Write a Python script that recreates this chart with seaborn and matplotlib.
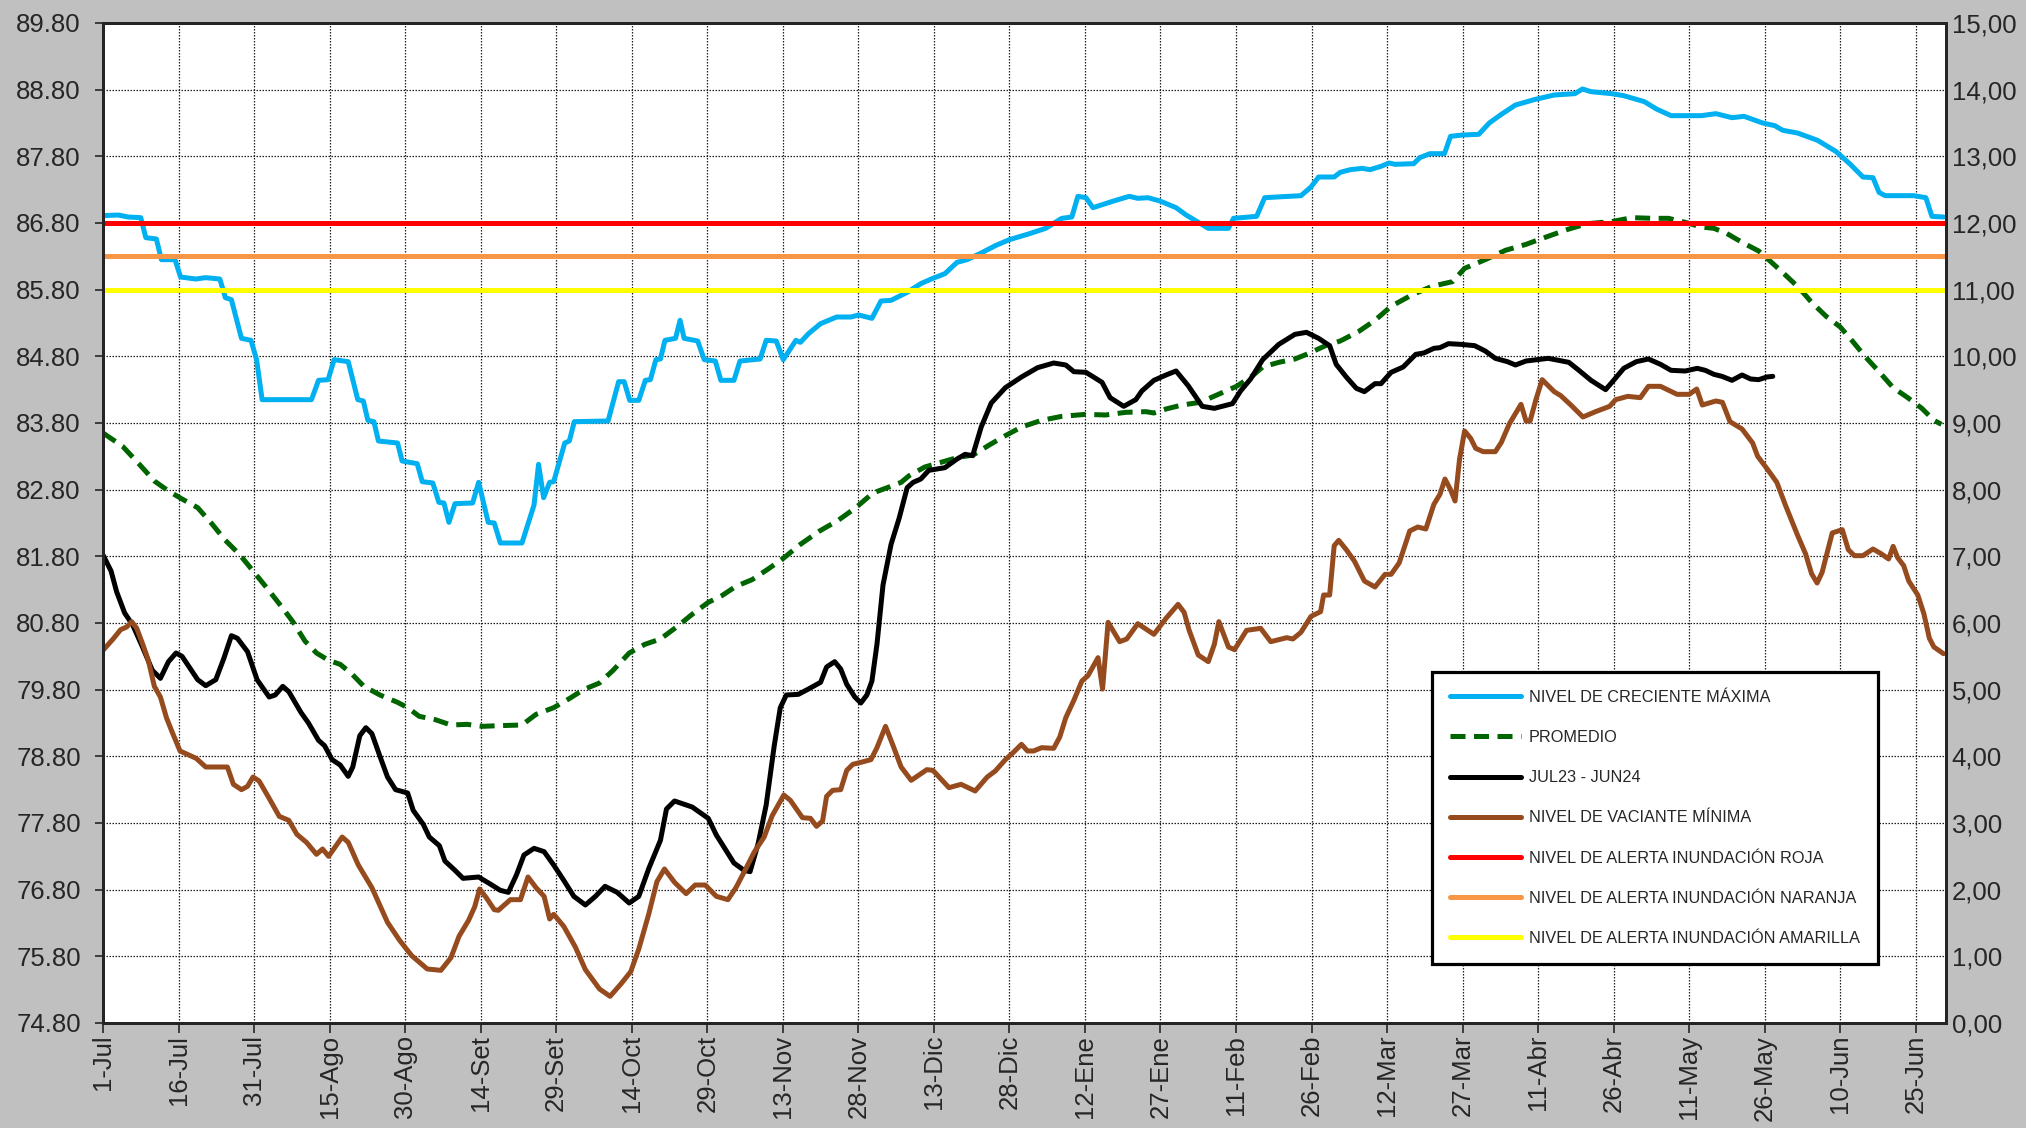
import matplotlib
matplotlib.use('Agg')
import pandas as pd
import matplotlib.pyplot as plt
import seaborn as sns

# %% datos (dia desde 1-Jul, nivel en m.s.n.m.)
creciente_max = [
    (0, 86.91), (3, 86.92), (5, 86.89), (7.5, 86.88), (8.5, 86.58), (10.6, 86.56), (11.6, 86.25),
    (14.3, 86.25), (15.4, 85.99), (18.4, 85.96), (20.4, 85.98), (23.2, 85.96), (24.3, 85.68),
    (25.5, 85.65), (27.5, 85.07), (29.4, 85.04), (30.5, 84.75), (31.6, 84.15), (41.4, 84.15),
    (42.8, 84.44), (44.7, 84.45), (45.9, 84.75), (48.7, 84.72), (50.6, 84.15), (51.7, 84.13),
    (52.6, 83.84), (53.8, 83.82), (54.7, 83.53), (58.5, 83.50), (59.4, 83.23), (62.4, 83.19),
    (63.4, 82.92), (65.5, 82.90), (66.7, 82.61), (67.7, 82.60), (68.7, 82.31), (69.9, 82.59),
    (73.4, 82.60), (74.6, 82.91), (76.5, 82.31), (77.7, 82.30), (78.9, 82.00), (83.2, 82.00),
    (85.6, 82.57), (86.5, 83.18), (87.5, 82.68), (88.7, 82.91), (89.5, 82.92), (91.7, 83.50),
    (92.6, 83.53), (93.6, 83.82), (100.3, 83.83), (102.4, 84.42), (103.5, 84.42), (104.6, 84.14),
    (106.4, 84.14), (107.7, 84.44), (108.7, 84.45), (109.8, 84.75), (110.7, 84.76), (111.6, 85.04),
    (113.7, 85.07), (114.6, 85.34), (115.4, 85.07), (118.1, 85.03), (119.4, 84.75), (121.6, 84.73),
    (122.7, 84.44), (125.3, 84.44), (126.5, 84.73), (130.5, 84.76), (131.7, 85.04), (133.7, 85.03),
    (135.1, 84.75), (137.6, 85.04), (138.5, 85.01), (140.1, 85.14), (142.5, 85.29), (145.7, 85.39),
    (148.5, 85.39), (150.1, 85.42), (152.7, 85.37), (154.5, 85.63), (156.5, 85.64), (159.7, 85.76),
    (162.4, 85.89), (164.8, 85.97), (167.2, 86.04), (169.6, 86.21), (171.6, 86.25), (174.4, 86.35),
    (177.2, 86.46), (180.0, 86.55), (184.0, 86.64), (187.2, 86.72), (190.4, 86.87), (192.4, 86.89),
    (193.6, 87.20), (195.2, 87.18), (196.6, 87.03), (200.7, 87.13), (203.8, 87.20), (205.5, 87.17),
    (207.5, 87.18), (209.9, 87.13), (213.1, 87.03), (215.1, 86.92), (217.5, 86.81), (219.5, 86.72),
    (223.5, 86.72), (224.5, 86.87), (229.1, 86.90), (230.7, 87.18), (237.9, 87.21), (239.9, 87.34),
    (241.4, 87.49), (244.5, 87.49), (245.7, 87.56), (247.7, 87.60), (250.1, 87.62), (251.6, 87.60),
    (253.8, 87.65), (255.4, 87.70), (256.6, 87.68), (260.3, 87.69), (261.5, 87.78), (263.5, 87.84),
    (266.4, 87.84), (267.6, 88.10), (270.0, 88.12), (273.2, 88.13), (275.3, 88.30), (277.7, 88.43),
    (280.5, 88.57), (284.2, 88.65), (288.2, 88.72), (292.3, 88.74), (293.8, 88.81), (295.5, 88.77),
    (299.6, 88.74), (302.0, 88.71), (306.1, 88.62), (308.5, 88.51), (311.4, 88.41), (317.4, 88.41),
    (320.3, 88.44), (323.5, 88.38), (325.9, 88.40), (329.6, 88.30), (332.0, 88.26), (333.6, 88.19),
    (336.5, 88.15), (340.5, 88.04), (344.2, 87.87), (347.0, 87.68), (349.5, 87.49), (351.5, 87.48),
    (352.7, 87.26), (353.9, 87.21), (359.6, 87.21), (362.0, 87.18), (363.2, 86.90), (365.5, 86.89),
]

promedio = [
    (0, 83.65), (3.9, 83.45), (7.1, 83.19), (10.2, 82.93), (13.0, 82.78), (15.7, 82.66), (18.8, 82.53),
    (21.6, 82.29), (24.3, 82.04), (27.1, 81.83), (29.8, 81.58), (32.6, 81.32), (35.3, 81.06),
    (37.7, 80.82), (40.1, 80.53), (42.4, 80.35), (44.8, 80.24), (47.1, 80.18), (49.5, 80.03),
    (51.8, 79.85), (55.0, 79.72), (58.5, 79.61), (60.5, 79.53), (62.8, 79.40), (66.0, 79.35),
    (69.1, 79.27), (72.3, 79.28), (75.4, 79.25), (78.5, 79.26), (83.2, 79.27), (86.0, 79.43),
    (89.5, 79.53), (92.7, 79.67), (95.4, 79.80), (98.6, 79.90), (101.3, 80.09), (104.5, 80.35),
    (107.6, 80.48), (110.7, 80.56), (113.9, 80.74), (117.0, 80.93), (120.2, 81.11), (122.9, 81.21),
    (125.7, 81.35), (128.9, 81.45), (132.1, 81.61), (135.1, 81.77), (138.5, 81.98), (142.3, 82.18),
    (146.0, 82.34), (149.5, 82.53), (152.9, 82.75), (156.1, 82.84), (158.5, 82.91), (160.1, 83.01),
    (163.2, 83.14), (166.4, 83.21), (169.6, 83.28), (172.8, 83.32), (176.0, 83.47), (179.2, 83.61),
    (182.4, 83.74), (186.4, 83.84), (190.4, 83.90), (195.2, 83.93), (199.1, 83.92), (203.1, 83.96),
    (207.1, 83.97), (208.7, 83.95), (211.1, 84.01), (214.3, 84.07), (217.9, 84.11), (221.5, 84.23),
    (225.1, 84.35), (228.3, 84.51), (230.3, 84.64), (233.5, 84.71), (236.7, 84.76), (239.0, 84.83),
    (242.8, 84.96), (245.7, 85.03), (249.3, 85.17), (252.6, 85.34), (255.8, 85.55), (259.9, 85.72),
    (263.9, 85.85), (268.0, 85.92), (270.4, 86.12), (274.5, 86.25), (278.5, 86.39), (282.6, 86.48),
    (286.6, 86.59), (290.7, 86.70), (294.7, 86.79), (299.6, 86.82), (303.6, 86.88), (307.7, 86.87),
    (310.9, 86.87), (314.2, 86.81), (317.4, 86.74), (319.9, 86.72), (322.3, 86.65), (325.5, 86.51),
    (328.8, 86.38), (331.2, 86.22), (334.1, 86.02), (336.9, 85.82), (339.3, 85.61), (342.2, 85.40),
    (345.0, 85.24), (347.4, 85.03), (349.9, 84.80), (352.7, 84.57), (355.5, 84.33), (358.4, 84.18),
    (361.2, 84.02), (363.6, 83.84), (365.1, 83.78),
]

jul23_jun24 = [
    (0, 81.82), (1.6, 81.58), (2.7, 81.27), (4.3, 80.95), (5.9, 80.77), (7.9, 80.43), (9.8, 80.09),
    (11.4, 79.97), (13.0, 80.22), (14.5, 80.35), (15.7, 80.30), (18.8, 79.95), (20.4, 79.86),
    (22.4, 79.95), (24.0, 80.27), (25.5, 80.61), (26.7, 80.57), (28.7, 80.37), (30.6, 79.95),
    (31.8, 79.82), (33.0, 79.69), (34.2, 79.72), (35.7, 79.85), (36.9, 79.77), (39.3, 79.46),
    (40.8, 79.30), (42.8, 79.04), (44.0, 78.96), (45.5, 78.75), (47.1, 78.67), (48.7, 78.50),
    (49.6, 78.64), (51.0, 79.11), (52.2, 79.23), (53.4, 79.14), (55.0, 78.80), (56.5, 78.49),
    (58.1, 78.30), (60.5, 78.25), (61.6, 77.99), (63.6, 77.78), (64.8, 77.59), (66.8, 77.46),
    (67.9, 77.23), (69.9, 77.09), (71.5, 76.97), (74.6, 76.99), (77.0, 76.88), (78.9, 76.79),
    (80.5, 76.76), (82.1, 77.02), (83.6, 77.32), (85.6, 77.42), (87.6, 77.37), (89.5, 77.17),
    (91.5, 76.94), (93.5, 76.70), (95.8, 76.57), (97.8, 76.70), (99.7, 76.85), (102.1, 76.76),
    (104.5, 76.60), (106.4, 76.70), (108.4, 77.12), (110.7, 77.54), (111.9, 78.01), (113.5, 78.13),
    (117.0, 78.04), (120.2, 77.87), (121.8, 77.62), (123.8, 77.38), (125.3, 77.20), (127.3, 77.09),
    (128.5, 77.07), (130.1, 77.49), (131.7, 78.07), (133.3, 78.96), (134.5, 79.53), (135.7, 79.72),
    (138.1, 79.73), (140.1, 79.81), (142.5, 79.91), (143.7, 80.14), (145.3, 80.22), (146.5, 80.11),
    (147.7, 79.88), (149.3, 79.69), (150.5, 79.60), (151.7, 79.72), (152.7, 79.93), (153.7, 80.48),
    (154.9, 81.37), (156.5, 81.98), (158.1, 82.37), (159.7, 82.83), (160.9, 82.91), (162.4, 82.96),
    (164.0, 83.09), (167.2, 83.13), (169.6, 83.26), (171.2, 83.33), (172.7, 83.31), (174.4, 83.74),
    (176.4, 84.10), (179.2, 84.33), (182.4, 84.49), (185.6, 84.63), (188.8, 84.70), (191.2, 84.67),
    (192.8, 84.57), (195.2, 84.56), (198.4, 84.41), (200.0, 84.18), (202.7, 84.05), (205.1, 84.15),
    (206.3, 84.28), (208.7, 84.44), (211.1, 84.52), (213.1, 84.58), (215.5, 84.36), (218.3, 84.05),
    (220.7, 84.02), (224.3, 84.09), (225.9, 84.28), (227.9, 84.46), (230.3, 84.75), (233.5, 84.98),
    (236.7, 85.13), (239.0, 85.16), (241.4, 85.07), (243.6, 84.96), (244.9, 84.68), (246.9, 84.49),
    (248.9, 84.32), (250.5, 84.27), (252.6, 84.39), (253.8, 84.39), (255.8, 84.56), (258.2, 84.64),
    (260.7, 84.83), (262.3, 84.85), (264.3, 84.92), (265.5, 84.93), (267.2, 84.99), (269.6, 84.98),
    (272.4, 84.96), (274.5, 84.88), (276.5, 84.77), (278.9, 84.72), (280.5, 84.67), (282.6, 84.73),
    (287.0, 84.77), (291.1, 84.71), (293.1, 84.59), (295.5, 84.44), (298.4, 84.30), (300.0, 84.44),
    (302.0, 84.62), (304.5, 84.72), (306.9, 84.76), (309.3, 84.68), (311.4, 84.59), (314.2, 84.58),
    (316.6, 84.62), (318.2, 84.59), (319.9, 84.53), (321.5, 84.50), (323.5, 84.44), (325.5, 84.52),
    (327.2, 84.46), (328.8, 84.45), (330.4, 84.49), (331.6, 84.50),
]

vaciante_min = [
    (0, 80.39), (2.0, 80.56), (3.5, 80.70), (4.7, 80.74), (5.7, 80.82), (6.7, 80.72), (7.9, 80.48),
    (9.0, 80.24), (10.2, 79.85), (11.4, 79.69), (12.6, 79.38), (13.7, 79.17), (15.3, 78.88),
    (18.5, 78.77), (20.4, 78.64), (24.7, 78.64), (25.9, 78.38), (27.5, 78.30), (28.7, 78.35),
    (29.8, 78.49), (31.0, 78.43), (33.0, 78.17), (35.0, 77.90), (36.9, 77.84), (38.5, 77.63),
    (40.4, 77.51), (42.4, 77.33), (43.6, 77.41), (44.8, 77.30), (46.3, 77.46), (47.5, 77.59),
    (48.7, 77.51), (50.7, 77.17), (53.4, 76.83), (56.5, 76.31), (58.9, 76.04), (61.3, 75.81),
    (64.4, 75.61), (67.1, 75.59), (69.1, 75.78), (70.7, 76.10), (72.6, 76.34), (73.8, 76.54),
    (74.8, 76.81), (76.2, 76.67), (77.7, 76.50), (78.5, 76.49), (80.9, 76.65), (82.9, 76.65),
    (84.4, 76.99), (86.0, 76.83), (87.6, 76.70), (88.7, 76.36), (89.5, 76.43), (91.5, 76.25),
    (93.8, 75.94), (95.8, 75.60), (98.6, 75.31), (100.7, 75.20), (102.9, 75.39), (104.8, 75.57),
    (106.4, 75.91), (108.4, 76.44), (110.0, 76.92), (111.5, 77.11), (113.5, 76.91), (115.8, 76.74),
    (117.6, 76.87), (119.6, 76.87), (121.8, 76.70), (124.1, 76.65), (125.7, 76.83), (127.7, 77.12),
    (129.3, 77.36), (131.3, 77.59), (132.9, 77.91), (135.2, 78.22), (136.5, 78.14), (138.9, 77.88),
    (140.5, 77.87), (141.7, 77.75), (142.9, 77.83), (143.7, 78.20), (144.9, 78.29), (146.5, 78.30),
    (147.7, 78.59), (148.9, 78.68), (150.5, 78.71), (152.5, 78.75), (153.7, 78.93), (155.4, 79.25),
    (156.8, 78.98), (158.5, 78.64), (160.5, 78.44), (163.6, 78.60), (164.8, 78.59), (168.0, 78.33),
    (170.4, 78.38), (173.2, 78.28), (175.6, 78.49), (177.2, 78.58), (179.2, 78.75), (180.8, 78.86),
    (182.4, 78.98), (183.6, 78.88), (184.8, 78.88), (186.4, 78.93), (188.8, 78.92), (190.0, 79.09),
    (191.2, 79.38), (192.8, 79.64), (194.4, 79.93), (195.6, 80.01), (197.6, 80.28), (198.5, 79.81),
    (199.6, 80.81), (201.9, 80.52), (203.3, 80.56), (205.5, 80.79), (208.7, 80.63), (211.1, 80.87),
    (213.5, 81.08), (214.7, 80.96), (215.7, 80.69), (217.5, 80.32), (219.5, 80.22), (220.7, 80.48),
    (221.6, 80.82), (223.5, 80.44), (224.7, 80.40), (227.1, 80.69), (229.9, 80.72), (231.9, 80.52),
    (235.1, 80.58), (236.3, 80.56), (237.9, 80.66), (239.9, 80.90), (241.8, 80.97), (242.4, 81.22),
    (243.6, 81.22), (244.5, 81.96), (245.4, 82.04), (246.9, 81.90), (248.5, 81.73), (250.5, 81.43),
    (252.6, 81.34), (254.6, 81.53), (255.8, 81.53), (257.4, 81.70), (259.5, 82.18), (261.1, 82.24),
    (262.7, 82.21), (264.3, 82.58), (265.5, 82.73), (266.5, 82.96), (267.6, 82.80), (268.5, 82.63),
    (269.4, 83.26), (270.4, 83.68), (271.6, 83.57), (272.6, 83.42), (274.1, 83.37), (276.5, 83.37),
    (277.7, 83.51), (279.3, 83.79), (281.6, 84.08), (282.6, 83.83), (283.4, 83.83), (284.6, 84.16),
    (285.8, 84.45), (288.2, 84.27), (289.5, 84.21), (291.5, 84.07), (293.9, 83.89), (296.4, 83.97),
    (299.2, 84.05), (300.4, 84.15), (302.8, 84.20), (305.3, 84.18), (306.9, 84.35), (309.3, 84.35),
    (312.6, 84.23), (315.0, 84.23), (316.5, 84.31), (317.6, 84.07), (320.3, 84.13), (321.6, 84.11),
    (323.1, 83.82), (325.5, 83.71), (327.6, 83.50), (328.6, 83.30), (330.4, 83.12), (332.4, 82.91),
    (334.1, 82.57), (336.5, 82.12), (338.1, 81.84), (339.3, 81.54), (340.4, 81.40), (341.4, 81.56),
    (343.4, 82.15), (345.4, 82.20), (346.6, 81.90), (347.8, 81.81), (349.5, 81.81), (351.5, 81.91),
    (353.1, 81.84), (354.6, 81.76), (355.5, 81.95), (356.4, 81.78), (357.6, 81.66), (358.6, 81.43),
    (360.4, 81.22), (361.6, 80.94), (362.7, 80.57), (363.6, 80.44), (365.5, 80.34),
]

# niveles de alerta
alerta_roja = 86.80
alerta_naranja = 86.30
alerta_amarilla = 85.80

# ejes
tick_dias = list(range(0, 361, 15))
tick_fechas = ['1-Jul', '16-Jul', '31-Jul', '15-Ago', '30-Ago', '14-Set', '29-Set', '14-Oct', '29-Oct',
               '13-Nov', '28-Nov', '13-Dic', '28-Dic', '12-Ene', '27-Ene', '11-Feb', '26-Feb',
               '12-Mar', '27-Mar', '11-Abr', '26-Abr', '11-May', '26-May', '10-Jun', '25-Jun']
nivel_min, nivel_max = 74.80, 89.80

# %% grafico
sns.set_style('ticks')
plt.rcParams['font.family'] = ['Liberation Sans', 'DejaVu Sans']

fig = plt.figure(figsize=(20.26, 11.28), dpi=100, facecolor='#C0C0C0')
ax = fig.add_axes([103 / 2026, 1 - 1023 / 1128, 1843 / 2026, 1000 / 1128])
ax.set_facecolor('white')

series = [
    (creciente_max, 'NIVEL DE CRECIENTE MÁXIMA', '#00B0F0', '-'),
    (promedio, 'PROMEDIO', '#006400', (0, (3, 1.7))),
    (jul23_jun24, 'JUL23 - JUN24', '#000000', '-'),
    (vaciante_min, 'NIVEL DE VACIANTE MÍNIMA', '#964B1E', '-'),
]
for pts, nombre, color, estilo in series:
    df = pd.DataFrame(pts, columns=['dia', 'nivel'])
    sns.lineplot(data=df, x='dia', y='nivel', ax=ax, color=color, linewidth=3.6,
                 linestyle=estilo, label=nombre, sort=False, estimator=None)

ax.axhline(alerta_roja, color='#FF0000', linewidth=3.6, label='NIVEL DE ALERTA INUNDACIÓN ROJA')
ax.axhline(alerta_naranja, color='#F79646', linewidth=3.6, label='NIVEL DE ALERTA INUNDACIÓN NARANJA')
ax.axhline(alerta_amarilla, color='#FFFF00', linewidth=3.6, label='NIVEL DE ALERTA INUNDACIÓN AMARILLA')

ax.set_xlim(0, 366)
ax.set_ylim(nivel_min, nivel_max)
ax.set_xticks(tick_dias)
ax.set_xticklabels(tick_fechas, rotation=90, fontsize=18.5)
ax.set_yticks([nivel_min + i for i in range(16)])
ax.set_yticklabels([f'{nivel_min + i:.2f}' for i in range(16)], fontsize=18.5)
ax.set_xlabel('')
ax.set_ylabel('')
ax.tick_params(axis='x', direction='out', length=7.5, width=1.2, pad=1)
ax.tick_params(axis='y', direction='out', length=6, width=1.2, pad=10)
ax.grid(True, color='#202020', linestyle=(0, (1.2, 1.2)), linewidth=0.9)
ax.set_axisbelow(True)
for s in ax.spines.values():
    s.set_linewidth(2)
    s.set_color('black')

ax2 = ax.twinx()
ax2.set_ylim(0, 15)
ax2.set_yticks(range(16))
ax2.set_yticklabels([f'{v:.2f}'.replace('.', ',') for v in range(16)], fontsize=18.5)
ax2.tick_params(axis='y', length=0, pad=4)
for s in ax2.spines.values():
    s.set_linewidth(2)

leg = ax.legend(loc='upper left', bbox_to_anchor=(0.7211, 0.351), borderaxespad=0,
                fontsize=11.7, frameon=True, fancybox=False, framealpha=1, edgecolor='black',
                labelspacing=1.55, handlelength=4.4, handletextpad=0.45, borderpad=1.1)
leg.get_frame().set_linewidth(2.3)

plt.savefig('out.png', dpi=100, facecolor=fig.get_facecolor())
